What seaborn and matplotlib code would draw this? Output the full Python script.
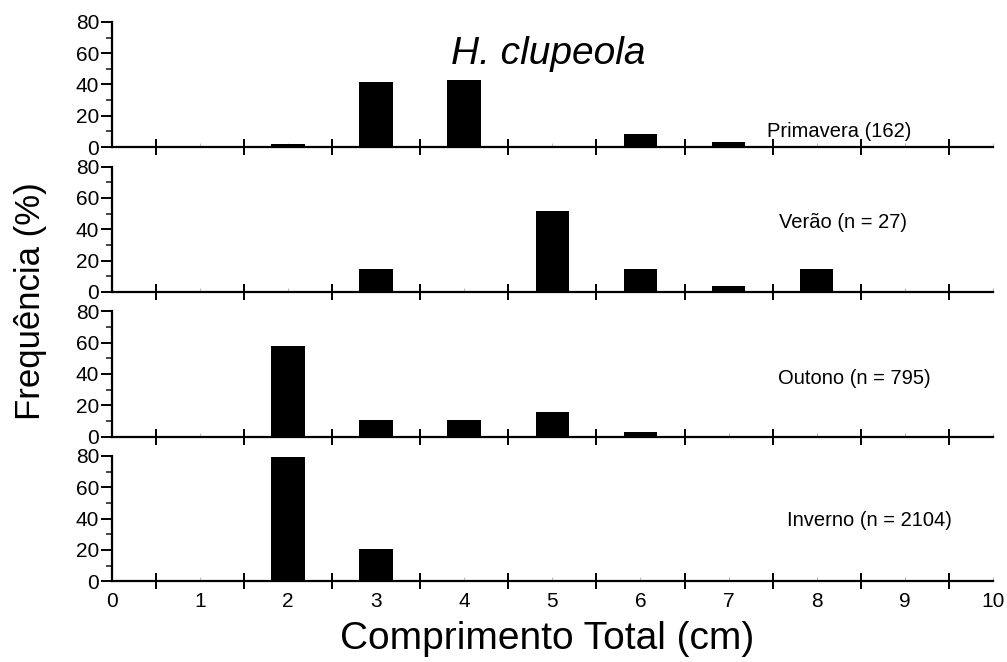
import numpy as np
import pandas as pd
import matplotlib
matplotlib.use("Agg")
import matplotlib.pyplot as plt
import seaborn as sns
from matplotlib.ticker import MultipleLocator, FixedLocator, FixedFormatter, NullFormatter

sns.set_theme(style="white")
plt.rcParams["font.family"] = ["Liberation Sans", "DejaVu Sans"]
plt.rcParams["text.color"] = "black"

# --- DATA ---
lengths = [1, 2, 3, 4, 5, 6, 7, 8, 9]
primavera = [0, 1.9, 41.4, 42.6, 0.6, 8.6, 3.1, 0, 0.4]
verao = [0, 0, 14.8, 0, 51.9, 14.8, 3.7, 14.8, 0]
outono = [0, 57.5, 10.5, 10.5, 15.5, 3.2, 0.4, 0, 0]
inverno = [0, 79.2, 20.8, 0, 0, 0, 0, 0, 0]

seasons = ["Primavera (162)", "Verão (n = 27)", "Outono (n = 795)", "Inverno (n = 2104)"]
season_values = [primavera, verao, outono, inverno]
# label anchor (data coords)
label_pos = [(8.26, 9.7), (8.3, 44.5), (8.43, 37), (8.6, 39)]

df = pd.concat(
    [pd.DataFrame({"season": s, "length": lengths, "freq": v})
     for s, v in zip(seasons, season_values)],
    ignore_index=True,
)

# --- PLOT ---
fig, axes = plt.subplots(4, 1, figsize=(10.07, 6.62), dpi=100, sharex=True)
fig.subplots_adjust(left=0.111, right=0.986, top=0.967, bottom=0.122, hspace=0.155)

for ax, season, (lx, ly) in zip(axes, seasons, label_pos):
    sub = df[df["season"] == season]
    sns.barplot(data=sub, x="length", y="freq", native_scale=True, width=0.38,
                color="black", edgecolor="none", ax=ax)
    ax.set_xlim(0, 10)
    ax.set_ylim(0, 80)
    ax.set_xlabel("")
    ax.set_ylabel("")
    for sp in ["top", "right"]:
        ax.spines[sp].set_visible(False)
    for sp in ["left", "bottom"]:
        ax.spines[sp].set_linewidth(1.6)
        ax.spines[sp].set_color("black")

    ax.yaxis.set_major_locator(MultipleLocator(20))
    ax.yaxis.set_minor_locator(MultipleLocator(10))
    ax.tick_params(axis="y", which="major", direction="out", length=8, width=1.4,
                   labelsize=15, pad=1, left=True, colors="black")
    ax.tick_params(axis="y", which="minor", direction="out", length=4, width=1.2,
                   left=True)

    # major ticks at half-integers cross the axis, labels at integers
    ax.xaxis.set_major_locator(FixedLocator(np.arange(0.5, 10, 1.0)))
    ax.xaxis.set_major_formatter(NullFormatter())
    ax.xaxis.set_minor_locator(FixedLocator(np.arange(0, 11, 1)))
    ax.tick_params(axis="x", which="major", direction="inout", length=12, width=1.4,
                   bottom=True, colors="black")
    ax.tick_params(axis="x", which="minor", direction="in", length=3, width=0.8,
                   bottom=True, color="#bbbbbb", labelsize=15, labelcolor="black",
                   pad=8)
    ax.set_facecolor("none")

    ax.text(lx, ly, season, ha="center", va="center", fontsize=14.5, color="black")

last = axes[-1]
last.xaxis.set_minor_formatter(FixedFormatter([str(i) for i in range(11)]))
for ax in axes[:-1]:
    ax.tick_params(axis="x", which="minor", labelbottom=False)

fig.text(0.544, 0.918, "H. clupeola", ha="center", va="center", fontsize=28,
         style="italic")
fig.text(0.03, 0.545, "Frequência (%)", ha="center", va="center", rotation=90,
         fontsize=25)
fig.text(0.543, 0.035, "Comprimento Total (cm)", ha="center", va="center",
         fontsize=28)

fig.savefig("out.png", dpi=100, facecolor="white")
